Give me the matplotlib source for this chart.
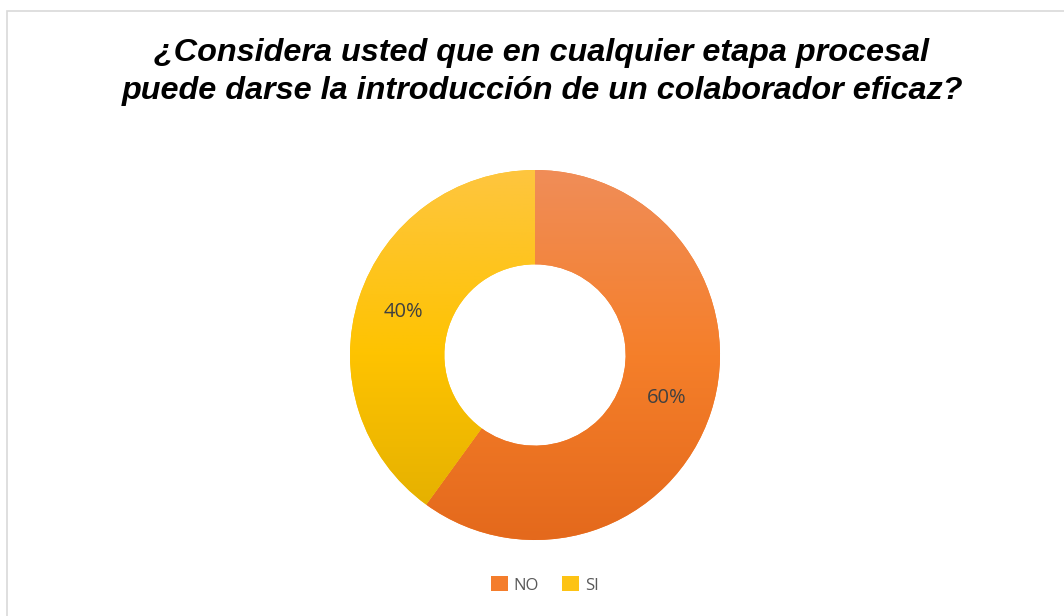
import matplotlib.pyplot as plt
import numpy as np
from matplotlib.colors import LinearSegmentedColormap
from matplotlib.patches import Rectangle

# datos
etiquetas = ["NO", "SI"]
valores = [60, 40]
colores = ["#f47d2c", "#fdc314"]
# degradado de arriba (claro) a abajo (oscuro)
degradados = [["#f08d58", "#f57f2a", "#e4691c"],
              ["#fec63f", "#fec300", "#e0ad00"]]
titulo = "¿Considera usted que en cualquier etapa procesal\npuede darse la introducción de un colaborador eficaz?"

fig = plt.figure(figsize=(10.64, 6.16), dpi=100)
fig.patch.set_facecolor("white")

# borde del gráfico
fig.patches.append(Rectangle((7 / 1064, -0.1), 1.2, (616 - 11) / 616 + 0.1,
                             transform=fig.transFigure, fill=False,
                             edgecolor="#d9d9d9", linewidth=1.2))

# centro en (535, 355) px, radio 185 px
ax = fig.add_axes([(535 - 185) / 1064, (616 - 355 - 185) / 616, 370 / 1064, 370 / 616])

wedges, textos, autotextos = ax.pie(
    valores, colors=colores, startangle=90, counterclock=False,
    autopct="%1.0f%%", pctdistance=0.75,
    wedgeprops=dict(width=0.51, edgecolor="none"),
    textprops=dict(color="#404040", fontsize=14.5, family="Open Sans"))

# rellenos con degradado vertical
grad = np.linspace(1, 0, 256).reshape(-1, 1)
for w, cols in zip(wedges, degradados):
    cmap = LinearSegmentedColormap.from_list("g", cols[::-1])
    im = ax.imshow(grad, cmap=cmap, extent=(-1, 1, -1, 1), aspect="auto",
                   origin="upper", zorder=1.5, vmin=0, vmax=1)
    im.set_clip_path(w)
for t in autotextos:
    t.set_zorder(3)

ax.set_xlim(-1, 1)
ax.set_ylim(-1, 1)
ax.axis("off")

fig.text(542 / 1064, 1 - 72 / 616, titulo, ha="center", va="center",
         fontsize=23.3, fontweight="bold", fontstyle="italic",
         family="Liberation Sans", color="black", linespacing=1.32)

fig.legend(wedges, etiquetas, loc="center", bbox_to_anchor=(545 / 1064, 1 - 585 / 616),
           ncol=2, frameon=False, prop=dict(family="Open Sans", size=12),
           handlelength=1.0, handleheight=1.0, handletextpad=0.35,
           columnspacing=1.4, labelcolor="#595959")

fig.savefig("out.png", dpi=100, facecolor="white")
